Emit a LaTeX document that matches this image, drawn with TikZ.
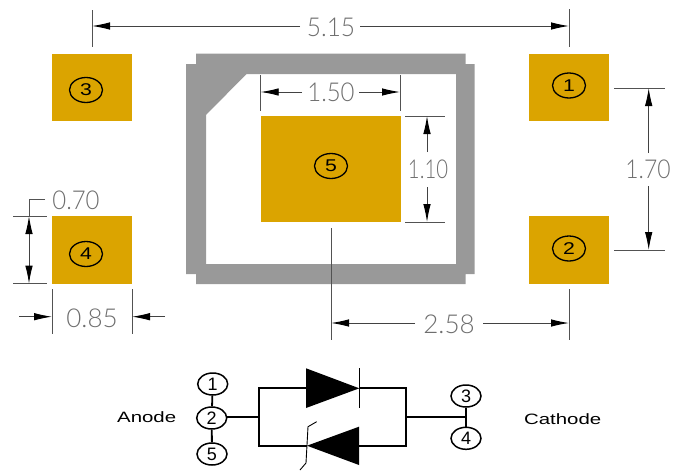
\documentclass[tikz,border=0pt]{standalone}
\usepackage{fontspec}
\setmainfont{Liberation Sans}
\newfontfamily\dimfont{Lato Light}
\usetikzlibrary{arrows.meta,shapes.geometric}
\definecolor{padc}{HTML}{DBA400}
\definecolor{framec}{HTML}{999999}
\definecolor{dimc}{HTML}{6E6E6E}
\newcommand{\wdig}[1]{\scalebox{1.25}[1]{#1}}
\tikzset{
  x=1pt,y=-1pt,
  pad/.style={fill=padc,draw=none},
  extl/.style={draw=dimc!75!black,line width=0.9pt},
  dimarr/.style={draw=dimc!60!black,line width=0.9pt,-{Latex[length=18pt,width=7.5pt,black]}},
  dimtext/.style={text=dimc,font=\dimfont\fontsize{26}{26}\selectfont,inner sep=0pt},
  padnum/.style={draw=black,line width=1.3pt,ellipse,minimum width=33pt,minimum height=25pt,inner sep=0pt,font=\fontsize{17}{17}\selectfont},
  schnum/.style={draw=black,line width=1.5pt,ellipse,minimum width=30pt,minimum height=22pt,inner sep=0pt,font=\fontsize{18}{18}\selectfont},
  wire/.style={draw=black,line width=1.8pt},
  thin wire/.style={draw=black,line width=0.9pt},
  lab/.style={inner sep=0pt,font=\fontsize{15}{15}\selectfont}
}
\begin{document}
\begin{tikzpicture}
\useasboundingbox (0,0) rectangle (674,471);
% frame
\fill[framec,even odd rule]
  (196,53.5) -- (465.5,53.5) -- (465.5,64) -- (474.5,64) -- (474.5,274) -- (465.5,274) -- (465.5,284) -- (196,284) -- (196,274) -- (186,274) -- (186,64) -- (196,64) -- cycle
  (246.5,74) -- (456,74) -- (456,264) -- (206,264) -- (206,115) -- cycle;
% pads
\fill[pad] (529,53.5) rectangle (609,120.7);
\fill[pad] (529,216) rectangle (609,283.7);
\fill[pad] (52,53.5) rectangle (132,120.7);
\fill[pad] (52,216) rectangle (132,283.7);
\fill[pad] (260.7,116) rectangle (400.7,222);
\node[padnum] (p1) at (569,85.5) {\wdig{1}};
\node[padnum] (p2) at (569,248.5) {\wdig{2}};
\node[padnum] (p3) at (86,90) {\wdig{3}};
\node[padnum] (p4) at (86,254) {\wdig{4}};
\node[padnum] (p5) at (331,166) {\wdig{5}};
% 5.15
\coordinate (a1) at (92,26); \coordinate (a2) at (569,26);
\node[dimtext,xscale=.94] (d515) at (331,27) {5.15};
\draw[extl] (92,10) -- (92,47);
\draw[extl] (569,9) -- (569,47);
\draw[dimarr] (300,26) -- (a1);
\draw[dimarr] (360,26) -- (a2);
% 1.50
\node[dimtext,xscale=.92] (d150) at (331,92.5) {1.50};
\draw[extl] (260.7,75) -- (260.7,111);
\draw[extl] (400,75) -- (400,111);
\draw[dimarr] (302,92) -- (260.7,92);
\draw[dimarr] (359,92) -- (400,92);
% 1.10
\node[dimtext,xscale=.78] (d110) at (428,169) {1.10};
\draw[extl] (405,116) -- (445,116);
\draw[extl] (405,222) -- (445,222);
\draw[dimarr] (427,152) -- (427,116);
\draw[dimarr] (427,187) -- (427,222);
% 1.70
\node[dimtext,xscale=.88] (d170) at (648,169.5) {1.70};
\draw[extl] (614,88) -- (665,88);
\draw[extl] (614,250) -- (665,250);
\draw[dimarr] (648.7,153) -- (648.7,88);
\draw[dimarr] (648.7,186) -- (648.7,250);
% 2.58
\node[dimtext] (d258) at (449,324) {2.58};
\draw[extl] (331,228) -- (331,340);
\draw[extl] (569,289) -- (569,340);
\draw[dimarr] (415,323) -- (331,323);
\draw[dimarr] (483,323) -- (569,323);
% 0.85
\node[dimtext] (d085) at (92,318) {0.85};
\draw[extl] (52,289) -- (52,334);
\draw[extl] (132,289) -- (132,334);
\draw[dimarr] (19,316.7) -- (52,316.7);
\draw[dimarr] (165,316.7) -- (132,316.7);
% 0.70
\node[dimtext,xscale=.92] (d070) at (76,200) {0.70};
\draw[extl] (13,216) -- (47,216);
\draw[extl] (13,283.6) -- (47,283.6);
\draw[extl] (45,199) -- (29,199) -- (29,216);
\draw[dimarr] (29,250) -- (29,216);
\draw[dimarr] (29,250) -- (29,283.6);
% schematic
\node[schnum] (s1) at (212.7,384) {1};
\node[schnum] (s2) at (211.7,418) {2};
\node[schnum] (s5) at (212,454) {5};
\node[schnum] (s3) at (466,396) {3};
\node[schnum] (s4) at (466,438.3) {4};
\coordinate (bl) at (259.3,417);
\coordinate (br) at (405.7,417);
\draw[wire] (s1) -- (s2);
\draw[wire] (s2) -- (s5);
\draw[wire] (s3) -- (s4);
\draw[wire] (s2.east |- bl) -- (bl);
\draw[wire] (br) -- (466,417);
\draw[wire] (306,388.3) -- (259.3,388.3) -- (259.3,445.7) -- (307,445.7);
\draw[wire] (359.3,388.3) -- (405.7,388.3) -- (405.7,445.7) -- (359,445.7);
\fill[black] (306,368.3) -- (306,408) -- (359.3,388.3) -- cycle;
\draw[thin wire] (359.6,368) -- (359.6,408);
\fill[black] (359,426.7) -- (359,465) -- (307,445.7) -- cycle;
\draw[thin wire] (316.7,421.7) -- (308,426.7) -- (307,445) -- (306,463) -- (300,470);
\node[lab,xscale=1.36] (anode) at (146.7,417) {Anode};
\node[lab,xscale=1.36] (cathode) at (562.7,419) {Cathode};
\end{tikzpicture}
\end{document}
